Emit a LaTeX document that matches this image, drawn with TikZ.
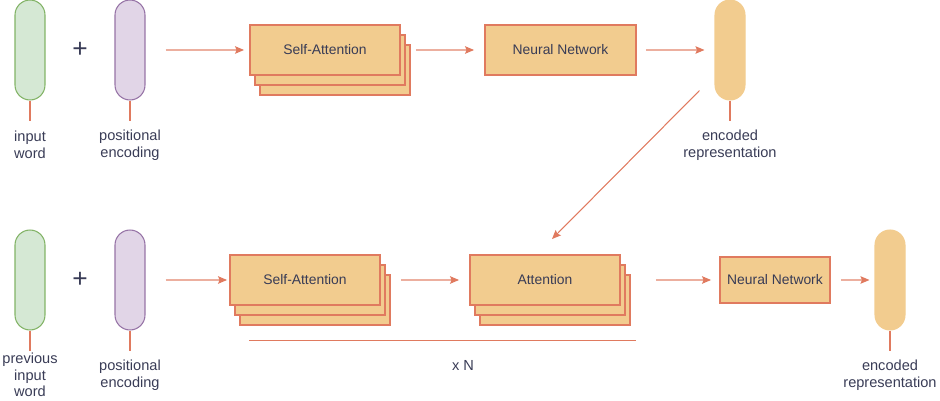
\documentclass[tikz,border=0pt]{standalone}
\usepackage{fontspec}
\setmainfont{Liberation Sans}
\usepackage{tikz}
\usetikzlibrary{positioning,arrows.meta,shadows}
\definecolor{coral}{HTML}{E07A5F}
\definecolor{sand}{HTML}{F2CC8F}
\definecolor{ink}{HTML}{393C56}
\definecolor{leaf}{HTML}{D5E8D4}
\definecolor{leafline}{HTML}{82B366}
\definecolor{lilac}{HTML}{E1D5E7}
\definecolor{lilacline}{HTML}{9673A6}
\tikzset{>={Stealth[length=0.18cm, width=0.15cm, inset=0.03cm]}}

\begin{document}
\begin{tikzpicture}[x=0.02cm, y=-0.02cm,
font=\fontsize{7.9}{9.3}\selectfont, text=ink,
pill/.style={rectangle, rounded corners=0.3cm, minimum width=0.6cm, minimum height=2cm, line width=0.6pt},
word/.style={pill, draw=leafline, fill=leaf},
posenc/.style={pill, draw=lilacline, fill=lilac},
outpill/.style={pill, draw=sand, fill=sand},
layer/.style={rectangle, draw=coral, fill=sand, line width=1.1pt, minimum width=3cm, minimum height=1cm},
stack/.style={layer, double copy shadow={shadow xshift=0.1cm, shadow yshift=-0.2cm}},
flow/.style={draw=coral!60, line width=0.6pt, -{>[coral]}},
stem/.style={draw=coral, line width=0.6pt},
caption/.style={align=center, inner sep=1pt, font=\fontsize{8.3}{9.4}\selectfont},
plus/.style={font=\fontsize{15}{15}\selectfont}
]
\useasboundingbox (0,0) rectangle (940,401);

% encoder
\node (in1) [word] at (30,50) {};
\node (plus1) [plus] at (80,50) {+};
\node (pos1) [posenc] at (130,50) {};
\node (sa1) [stack] at (325,50) {Self-Attention};
\node (nn1) [layer, minimum width=3.02cm] at (560.5,50) {Neural Network};
\node (enc1) [outpill] at (730,50) {};

\node (in1lbl) [caption] at (30,145) {input\\word};
\node (pos1lbl) [caption] at (130,145) {positional\\encoding};
\node (enc1lbl) [caption] at (730,145) {encoded\\representation};

\draw [stem] (in1.south) -- ++(0,20);
\draw [stem] (pos1.south) -- ++(0,20);
\draw [stem] (enc1.south) -- ++(0,20);

\draw [flow, shorten <=0.4cm, shorten >=0.1cm] (pos1) -- (sa1);
\draw [flow, shorten <=0.3cm, shorten >=0.2cm] (sa1) -- (nn1);
\draw [flow, shorten <=0.18cm, shorten >=0.2cm] (nn1) -- (enc1);

% decoder
\node (in2) [word] at (30,280) {};
\node (plus2) [plus] at (80,280) {+};
\node (pos2) [posenc] at (130,280) {};
\node (sa2) [stack] at (305,280) {Self-Attention};
\node (att2) [stack] at (545,280) {Attention};
\node (nn2) [layer, minimum width=2.2cm, minimum height=0.92cm] at (775,280) {Neural Network};
\node (enc2) [outpill] at (890,280) {};

\node (in2lbl) [caption] at (30,375) {previous\\input\\word};
\node (pos2lbl) [caption] at (130,375) {positional\\encoding};
\node (enc2lbl) [caption] at (890,375) {encoded\\representation};

\draw [stem] (in2.south) -- ++(0,20);
\draw [stem] (pos2.south) -- ++(0,20);
\draw [stem] (enc2.south) -- ++(0,20);

\draw [flow, shorten <=0.4cm, shorten >=0.04cm] (pos2) -- (sa2);
\draw [flow, shorten <=0.4cm, shorten >=0.2cm] (sa2) -- (att2);
\draw [flow, shorten <=0.7cm, shorten >=0.16cm] (att2) -- (nn2);
\draw [flow, shorten <=0.2cm, shorten >=0.1cm] (nn2) -- (enc2);

% encoder output into attention
\draw [stem, ->] ([xshift=-0.3cm, yshift=0.2cm]enc1.south west) -- ([xshift=0.14cm, yshift=0.3cm]att2.north);

% repeat bracket
\coordinate (rep1) at ([xshift=0.4cm, yshift=-0.7cm]sa2.south west);
\coordinate (rep2) at ([xshift=0.3cm, yshift=-0.7cm]att2.south east);
\draw [stem] (rep1) -- (rep2);
\node (times) [caption] at (463,365) {x N};
\end{tikzpicture}
\end{document}
